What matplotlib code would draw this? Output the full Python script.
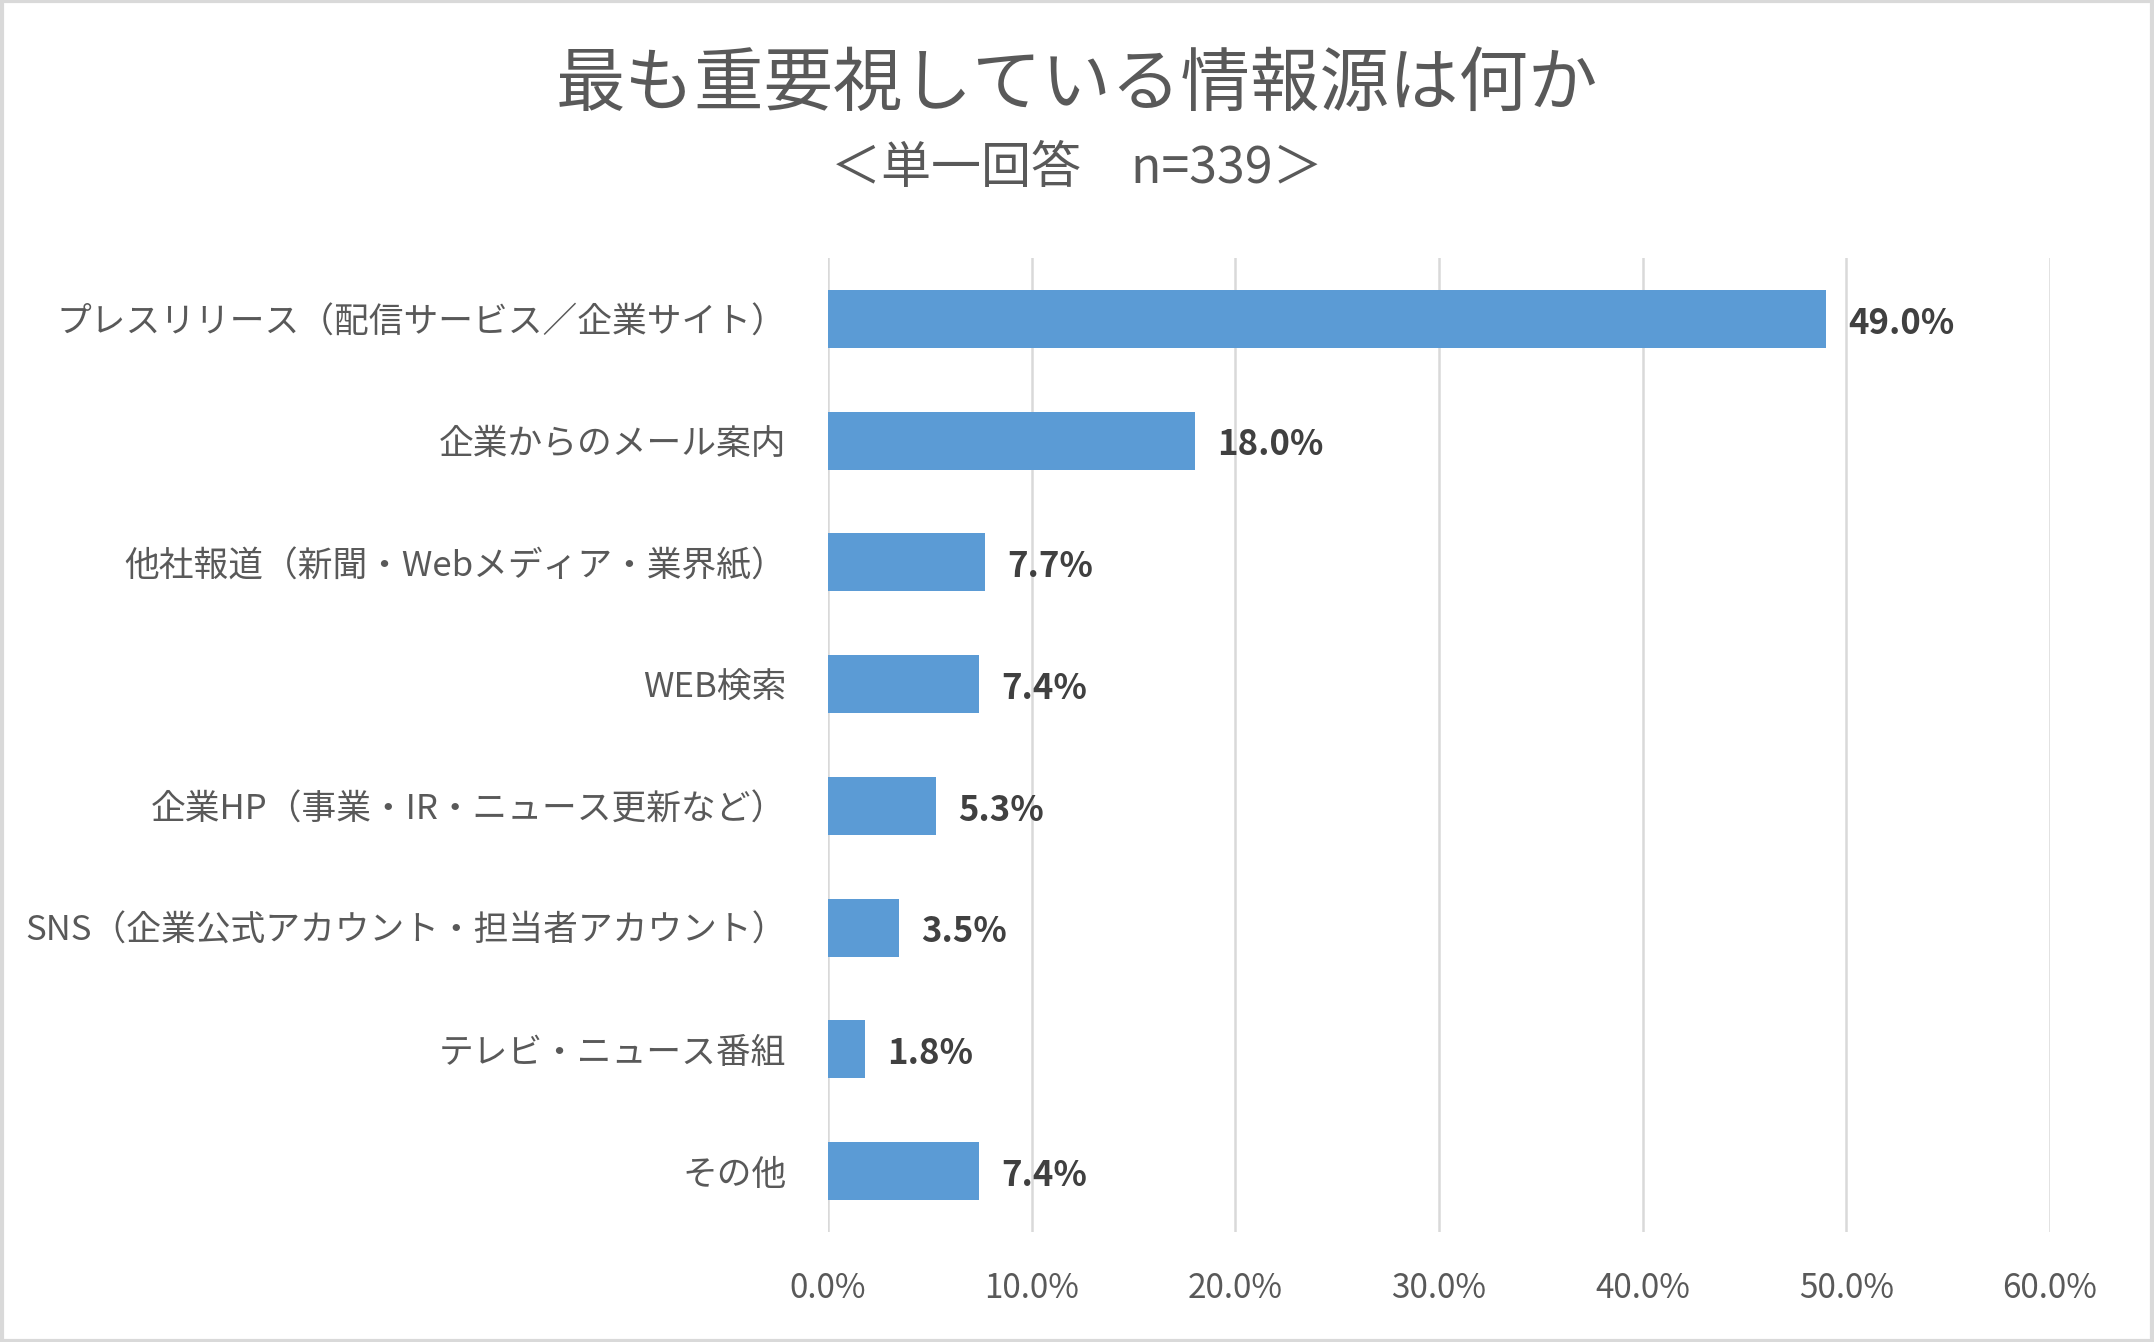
import matplotlib
matplotlib.use("Agg")
import matplotlib.pyplot as plt
from matplotlib.patches import Rectangle
from matplotlib.ticker import FuncFormatter

plt.rcParams['font.family'] = ['Noto Sans CJK JP', 'DejaVu Sans']

title = "最も重要視している情報源は何か"
subtitle = "＜単一回答　n=339＞"

categories = [
    "プレスリリース（配信サービス／企業サイト）",
    "企業からのメール案内",
    "他社報道（新聞・Webメディア・業界紙）",
    "WEB検索",
    "企業HP（事業・IR・ニュース更新など）",
    "SNS（企業公式アカウント・担当者アカウント）",
    "テレビ・ニュース番組",
    "その他",
]
values = [49.0, 18.0, 7.7, 7.4, 5.3, 3.5, 1.8, 7.4]
xticks = [0, 10, 20, 30, 40, 50, 60]

bar_color = "#5B9BD5"
text_gray = "#595959"

fig = plt.figure(figsize=(21.54, 13.42), dpi=100)
ax = fig.add_axes([0.3844, 0.082, 0.9517 - 0.3844, 0.8077 - 0.082])

y = list(range(len(categories)))
ax.barh(y, values, height=0.476, color=bar_color, zorder=3)

for yi, v in zip(y, values):
    ax.annotate(f"{v:.1f}%", xy=(v, yi), xytext=(16, -3), textcoords="offset points",
                ha="left", va="center", fontsize=25, fontweight="bold", color="#404040")

ax.set_xlim(0, 60)
ax.set_ylim(len(categories) - 0.5, -0.5)
ax.set_xticks(xticks)
ax.xaxis.set_major_formatter(FuncFormatter(lambda v, p: f"{v:.1f}%"))
ax.set_yticks(y)
ax.set_yticklabels(categories)
ax.tick_params(axis="y", length=0, pad=30, labelsize=25, labelcolor=text_gray)
ax.tick_params(axis="x", length=0, pad=28, labelsize=24, labelcolor=text_gray)
ax.grid(axis="x", color="#D9D9D9", linewidth=1.8, zorder=0)
for s in ax.spines.values():
    s.set_visible(False)

fig.text(0.5, 0.9367, title, ha="center", va="center", fontsize=50, color=text_gray)
fig.text(0.5, 0.874, subtitle, ha="center", va="center", fontsize=36, color=text_gray)

fig.patches.append(Rectangle((0.001, 0.001), 0.998, 0.998, transform=fig.transFigure,
                             fill=False, edgecolor="#D9D9D9", linewidth=3))

fig.savefig("out.png", dpi=100)
